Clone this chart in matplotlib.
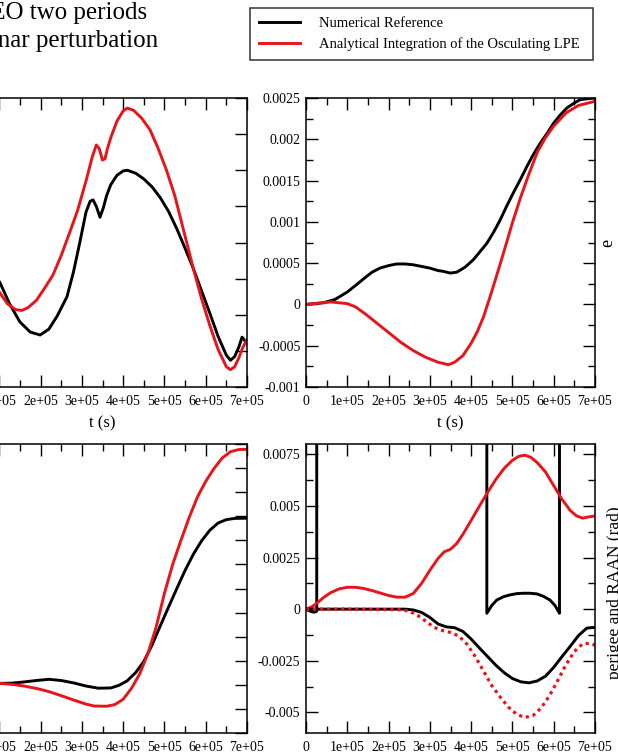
import matplotlib
matplotlib.use("Agg")
import matplotlib.pyplot as plt
from matplotlib.ticker import MultipleLocator, FixedLocator, FixedFormatter

plt.rcParams['font.family'] = ['Liberation Serif', 'DejaVu Serif']

# ---------------- data ----------------
title_lines = ["LEO two periods", "Lunar perturbation"]
legend_labels = ["Numerical Reference", "Analytical Integration of the Osculating LPE"]
x_ticks = [0, 1e5, 2e5, 3e5, 4e5, 5e5, 6e5, 7e5]
x_tick_labels = ["0", "1e+05", "2e+05", "3e+05", "4e+05", "5e+05", "6e+05", "7e+05"]
x_label = "t (s)"

# top-left panel (left part cut off in the reference)
tl_t_num = [0, 0.5e5, 1.02e5, 1.25e5, 1.5e5, 1.75e5, 1.99e5, 2.2e5, 2.4e5, 2.64e5, 2.8e5, 2.95e5,
            3.1e5, 3.2e5, 3.27e5, 3.35e5, 3.44e5, 3.52e5, 3.6e5, 3.7e5, 3.85e5, 4.0e5, 4.1e5,
            4.3e5, 4.5e5, 4.7e5, 4.9e5, 5.1e5, 5.3e5, 5.5e5, 5.7e5, 5.9e5, 6.1e5, 6.3e5, 6.5e5,
            6.6e5, 6.7e5, 6.8e5, 6.88e5, 6.95e5, 7.0e5]
tl_num = [0.6, 0.4, -0.06, -0.35, -0.6, -0.74, -0.78, -0.7, -0.52, -0.25, 0.1, 0.5,
          0.92, 1.07, 1.09, 1.0, 0.85, 0.98, 1.15, 1.3, 1.43, 1.49, 1.50,
          1.46, 1.38, 1.27, 1.12, 0.93, 0.69, 0.42, 0.14, -0.17, -0.48, -0.80, -1.06,
          -1.13, -1.08, -0.95, -0.81, -0.86, -0.89]
tl_t_ana = [0, 0.5e5, 1.02e5, 1.2e5, 1.4e5, 1.55e5, 1.7e5, 1.9e5, 2.1e5, 2.3e5, 2.5e5, 2.7e5,
            2.9e5, 3.1e5, 3.25e5, 3.35e5, 3.42e5, 3.5e5, 3.56e5, 3.62e5, 3.7e5, 3.85e5, 4.0e5,
            4.1e5, 4.25e5, 4.45e5, 4.65e5, 4.85e5, 5.05e5, 5.25e5, 5.45e5, 5.7e5, 5.9e5, 6.1e5,
            6.3e5, 6.5e5, 6.6e5, 6.7e5, 6.8e5, 6.9e5, 7.0e5]
tl_ana = [0.5, 0.2, -0.20, -0.35, -0.43, -0.44, -0.40, -0.30, -0.13, 0.05, 0.32, 0.63,
          0.95, 1.35, 1.68, 1.85, 1.80, 1.64, 1.66, 1.80, 1.95, 2.18, 2.32,
          2.36, 2.33, 2.22, 2.06, 1.80, 1.50, 1.15, 0.70, 0.14, -0.28, -0.65,
          -0.98, -1.22, -1.26, -1.22, -1.10, -0.95, -0.85]
tl_yticks = [-1.5, -1.0, -0.5, 0, 0.5, 1.0, 1.5, 2.0, 2.5]

# top-right panel: eccentricity
e_t_num = [0, 0.42e5, 0.7e5, 1.0e5, 1.2e5, 1.47e5, 1.6e5, 1.79e5, 2.0e5, 2.19e5, 2.4e5, 2.6e5,
           2.8e5, 3.0e5, 3.2e5, 3.33e5, 3.49e5, 3.65e5, 3.85e5, 4.05e5, 4.2e5, 4.38e5, 4.55e5,
           4.70e5, 4.85e5, 5.02e5, 5.2e5, 5.35e5, 5.5e5, 5.67e5, 5.85e5, 5.99e5, 6.15e5, 6.32e5,
           6.5e5, 6.64e5, 6.8e5, 7.0e5]
e_num = [0, 0.00002, 0.00006, 0.00015, 0.00023, 0.00034, 0.00039, 0.00044, 0.00047, 0.00049, 0.00049, 0.00048,
         0.00046, 0.00044, 0.00041, 0.00040, 0.00038, 0.00039, 0.00045, 0.00054, 0.00063, 0.00074, 0.00088,
         0.00102, 0.00118, 0.00135, 0.00152, 0.00167, 0.00181, 0.00195, 0.00208, 0.00219, 0.00229, 0.00238,
         0.00244, 0.00248, 0.00249, 0.00250]
e_t_ana = [0, 0.6e5, 1.0e5, 1.2e5, 1.45e5, 1.7e5, 2.0e5, 2.3e5, 2.6e5, 2.9e5, 3.2e5, 3.45e5,
           3.6e5, 3.8e5, 4.0e5, 4.15e5, 4.3e5, 4.45e5, 4.6e5, 4.8e5, 5.0e5, 5.2e5, 5.4e5,
           5.6e5, 5.8e5, 6.0e5, 6.3e5, 6.6e5, 7.0e5]
e_ana = [0, 0.00003, 0.00001, -0.00003, -0.00012, -0.00022, -0.00034, -0.00046, -0.00056, -0.00064, -0.00070, -0.00073,
         -0.00070, -0.00062, -0.00047, -0.00033, -0.00015, 0.00008, 0.00032, 0.00065, 0.00099, 0.00130, 0.00158,
         0.00184, 0.00202, 0.00216, 0.00232, 0.00241, 0.00246]
e_yticks = [-0.001, -0.0005, 0, 0.0005, 0.001, 0.0015, 0.002, 0.0025]
e_ytick_labels = ["-0.001", "-0.0005", "0", "0.0005", "0.001", "0.0015", "0.002", "0.0025"]
e_label = "e"

# bottom-left panel (left part cut off in the reference)
bl_t_num = [0, 0.5e5, 1.02e5, 1.3e5, 1.6e5, 1.9e5, 2.2e5, 2.5e5, 2.8e5, 3.1e5, 3.4e5, 3.7e5,
            3.9e5, 4.1e5, 4.3e5, 4.5e5, 4.7e5, 4.9e5, 5.1e5, 5.3e5, 5.5e5, 5.7e5, 5.9e5,
            6.1e5, 6.3e5, 6.5e5, 6.7e5, 7.0e5]
bl_num = [-3.94, -3.94, -3.94, -3.93, -3.88, -3.82, -3.77, -3.82, -3.92, -4.05, -4.14, -4.13,
          -4.02, -3.83, -3.50, -3.03, -2.35, -1.55, -0.77, 0.0, 0.75, 1.42, 1.98,
          2.42, 2.72, 2.86, 2.91, 2.92]
bl_t_ana = [0, 0.5e5, 1.02e5, 1.3e5, 1.6e5, 1.9e5, 2.2e5, 2.5e5, 2.8e5, 3.1e5, 3.3e5, 3.6e5,
            3.8e5, 4.0e5, 4.2e5, 4.4e5, 4.6e5, 4.8e5, 5.0e5, 5.2e5, 5.4e5, 5.6e5, 5.8e5,
            6.0e5, 6.2e5, 6.4e5, 6.6e5, 6.8e5, 7.0e5]
bl_ana = [-3.94, -3.94, -3.94, -3.98, -4.05, -4.15, -4.28, -4.45, -4.63, -4.80, -4.88, -4.89,
          -4.82, -4.60, -4.15, -3.55, -2.70, -1.60, -0.20, 1.00, 2.00, 2.95, 3.80,
          4.45, 4.98, 5.42, 5.68, 5.77, 5.78]
bl_yticks = [-6, -5, -4, -3, -2, -1, 0, 1, 2, 3, 4, 5, 6]

# bottom-right panel: argument of perigee and RAAN
per_t_num = [0, 0.1e5, 0.2e5, 0.26e5, 0.26e5, 4.38e5, 4.38e5, 4.5e5, 4.62e5, 4.78e5, 4.94e5, 5.1e5,
             5.26e5, 5.42e5, 5.59e5, 5.75e5, 5.91e5, 6.03e5, 6.14e5, 6.14e5, 7.0e5]
per_num = [0, -0.0001, -0.00015, -0.0001, 6.2832, 6.2832, -0.0002, 0.00018, 0.00044, 0.0006, 0.00069, 0.00075,
           0.00077, 0.00077, 0.00074, 0.00062, 0.00044, 0.00018, -0.0002, 6.2832, 6.2832]
per_t_ana = [0, 0.15e5, 0.3e5, 0.45e5, 0.6e5, 0.8e5, 1.0e5, 1.2e5, 1.4e5, 1.6e5, 1.8e5, 2.0e5,
             2.2e5, 2.4e5, 2.6e5, 2.8e5, 3.0e5, 3.2e5, 3.35e5, 3.5e5, 3.65e5, 3.8e5, 4.0e5,
             4.2e5, 4.4e5, 4.6e5, 4.8e5, 5.0e5, 5.15e5, 5.3e5, 5.45e5, 5.6e5, 5.8e5, 6.0e5,
             6.2e5, 6.4e5, 6.55e5, 6.7e5, 6.85e5, 7.0e5]
per_ana = [0, 0.00012, 0.00035, 0.0006, 0.0008, 0.00098, 0.00106, 0.00106, 0.0010, 0.0009, 0.00078, 0.00066,
           0.00058, 0.00058, 0.00076, 0.00125, 0.00188, 0.00246, 0.00278, 0.0029, 0.00318, 0.00362, 0.0043,
           0.00499, 0.00566, 0.00629, 0.00682, 0.00721, 0.0074, 0.00746, 0.00735, 0.0071, 0.00665, 0.00598,
           0.00532, 0.00478, 0.00452, 0.00441, 0.00447, 0.00451]
raan_t_num = [0, 1.0e5, 2.0e5, 2.4e5, 2.6e5, 2.8e5, 3.0e5, 3.2e5, 3.4e5, 3.6e5, 3.8e5, 4.0e5,
              4.2e5, 4.4e5, 4.6e5, 4.8e5, 5.0e5, 5.2e5, 5.4e5, 5.6e5, 5.8e5, 6.0e5, 6.2e5,
              6.4e5, 6.6e5, 6.8e5, 7.0e5]
raan_num = [0, 0, 0, 0, -0.00004, -0.00016, -0.0004, -0.00072, -0.00086, -0.0009, -0.00108, -0.00145,
            -0.00188, -0.0023, -0.00272, -0.00308, -0.00336, -0.00352, -0.00357, -0.00348, -0.00325, -0.00282, -0.0023,
            -0.0018, -0.00128, -0.00092, -0.00088]
raan_t_ana = [0, 1.0e5, 2.3e5, 2.5e5, 2.7e5, 2.9e5, 3.1e5, 3.3e5, 3.5e5, 3.7e5, 3.9e5, 4.1e5,
              4.3e5, 4.5e5, 4.7e5, 4.9e5, 5.1e5, 5.3e5, 5.5e5, 5.7e5, 5.9e5, 6.1e5, 6.3e5,
              6.5e5, 6.7e5, 6.85e5, 7.0e5]
raan_ana = [0, 0, -0.00003, -0.0001, -0.0003, -0.00058, -0.00088, -0.00103, -0.00113, -0.0013, -0.0017, -0.0023,
            -0.0030, -0.0037, -0.00425, -0.00474, -0.00509, -0.00525, -0.00515, -0.00478, -0.00418, -0.00345, -0.00268,
            -0.00205, -0.00168, -0.00166, -0.00174]
pr_yticks = [-0.005, -0.0025, 0, 0.0025, 0.005, 0.0075]
pr_ytick_labels = ["-0.005", "-0.0025", "0", "0.0025", "0.005", "0.0075"]
pr_label = "perigee and RAAN (rad)"

# ---------------- layout ----------------
W, H = 618, 755
fig = plt.figure(figsize=(W / 100, H / 100), dpi=100)
BLACK = "#000000"
RED = "#e8141a"
LW = 2.1


def add_ax(l, t, r, b):
    return fig.add_axes([l / W, 1 - b / H, (r - l) / W, (b - t) / H])


def style(ax, ylim, yticks, yminor, ylabels=None):
    ax.set_xlim(0, 7e5)
    ax.set_ylim(*ylim)
    ax.xaxis.set_major_locator(FixedLocator(x_ticks))
    ax.xaxis.set_major_formatter(FixedFormatter(x_tick_labels))
    ax.xaxis.set_minor_locator(MultipleLocator(0.5e5))
    ax.yaxis.set_major_locator(FixedLocator(yticks))
    if ylabels is not None:
        ax.yaxis.set_major_formatter(FixedFormatter(ylabels))
    if yminor:
        ax.yaxis.set_minor_locator(MultipleLocator(yminor))
    ax.tick_params(which='both', direction='in', top=True, right=True, width=1.0, colors='black')
    ax.tick_params(which='major', length=8.5)
    ax.tick_params(which='minor', length=5)
    ax.tick_params(axis='y', labelsize=10, pad=4)
    ax.tick_params(axis='x', labelsize=10, pad=6)
    for s in ax.spines.values():
        s.set_linewidth(1.1)
    ax.set_xlabel(x_label, fontsize=12, labelpad=5)


ax_tl = add_ax(-42, 98, 247, 387)
ax_tr = add_ax(306, 98, 595, 387)
ax_bl = add_ax(-42, 444, 247, 733)
ax_br = add_ax(306, 444, 595, 733)

# top-left
ax_tl.plot(tl_t_num, tl_num, color=BLACK, lw=LW)
ax_tl.plot(tl_t_ana, tl_ana, color=RED, lw=LW)
style(ax_tl, (-1.5, 2.5), tl_yticks, None)

# top-right
l_num, = ax_tr.plot(e_t_num, e_num, color=BLACK, lw=LW)
l_ana, = ax_tr.plot(e_t_ana, e_ana, color=RED, lw=LW)
style(ax_tr, (-0.001, 0.0025), e_yticks, 0.00025, e_ytick_labels)
ax_tr.text(1.045, 0.5, e_label, transform=ax_tr.transAxes, rotation=90,
           ha='center', va='center', fontsize=13)

# bottom-left
ax_bl.plot(bl_t_num, bl_num, color=BLACK, lw=LW)
ax_bl.plot(bl_t_ana, bl_ana, color=RED, lw=LW)
style(ax_bl, (-6, 6), bl_yticks, None)

# bottom-right
ax_br.plot(per_t_num, per_num, color=BLACK, lw=LW)
ax_br.plot(per_t_ana, per_ana, color=RED, lw=LW)
ax_br.plot(raan_t_num, raan_num, color=BLACK, lw=LW)
ax_br.plot(raan_t_ana, raan_ana, color=RED, lw=2.3, linestyle=(0, (1.0, 1.2)),
           dash_capstyle='butt')
style(ax_br, (-0.006, 0.008), pr_yticks, 0.00125, pr_ytick_labels)
ax_br.text(1.07, 0.484, pr_label, transform=ax_br.transAxes, rotation=90,
           ha='center', va='center', fontsize=12.5)

# titles (cut off on the left in the reference)
fig.text(147 / W, 1 - 19 / H, title_lines[0], ha='right', va='baseline', fontsize=18)
fig.text(158 / W, 1 - 47 / H, title_lines[1], ha='right', va='baseline', fontsize=18)

# legend
leg = fig.legend([l_num, l_ana], legend_labels, loc='upper left',
                 bbox_to_anchor=(250 / W, 1 - 59 / H, 343 / W, 51 / H), mode='expand',
                 fontsize=10.5, frameon=True, fancybox=False, handlelength=2.8,
                 handletextpad=1.3, borderpad=0.6, labelspacing=0.5, borderaxespad=0)
leg.get_frame().set_edgecolor('black')
leg.get_frame().set_linewidth(1.1)

fig.savefig("out.png", dpi=100)
